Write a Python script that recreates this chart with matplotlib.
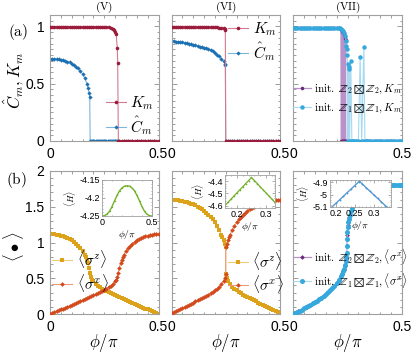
import matplotlib
matplotlib.use('Agg')
import matplotlib.pyplot as plt
from matplotlib.ticker import MultipleLocator, FixedLocator

plt.rcParams['font.family'] = ['Liberation Sans', 'DejaVu Sans']
plt.rcParams['mathtext.fontset'] = 'cm'
plt.rcParams['axes.unicode_minus'] = False

# ---------------- data: panel (a) ----------------
phiV_K = [0.00,0.01,0.02,0.03,0.04,0.05,0.06,0.07,0.08,0.09,0.10,0.11,0.12,0.13,0.14,0.15,0.16,0.17,0.18,0.19,
          0.20,0.21,0.22,0.23,0.24,0.25,0.26,0.27,0.28,0.29,0.295,0.30,0.305,0.31,0.312,0.315,0.32,0.33,0.34,0.35,
          0.36,0.37,0.38,0.39,0.40,0.41,0.42,0.43,0.44,0.45,0.46,0.47,0.48,0.49,0.50]
KV = [0.997,0.997,0.997,0.997,0.997,0.997,0.997,0.997,0.997,0.997,0.997,0.997,0.997,0.997,0.997,0.997,0.997,0.997,0.997,0.997,
      0.997,0.997,0.997,0.996,0.996,0.995,0.994,0.992,0.985,0.975,0.965,0.95,0.93,0.81,0.68,0.0,0.0,0.0,0.0,0.0,
      0.0,0.0,0.0,0.0,0.0,0.0,0.0,0.0,0.0,0.0,0.0,0.0,0.0,0.0,0.0]
phiV_C = [0.00,0.01,0.02,0.03,0.04,0.05,0.06,0.07,0.08,0.09,0.10,0.11,0.12,0.13,0.14,0.15,0.16,0.17,0.175,0.18,
          0.183,0.185,0.19,0.195,0.20,0.205,0.21,0.215,0.22,0.225,0.23,0.235,0.24,0.245,0.25,0.255,0.26,0.265,0.27,0.275,
          0.28,0.285,0.29,0.295,0.30,0.305,0.31,0.32,0.34,0.36,0.38,0.40,0.42,0.44,0.46,0.48,0.50]
CV = [0.720,0.720,0.719,0.717,0.714,0.710,0.705,0.700,0.694,0.686,0.676,0.664,0.650,0.634,0.612,0.585,0.550,0.500,0.465,0.420,
      0.380,0.0,0.0,0.0,0.0,0.0,0.0,0.0,0.0,0.0,0.0,0.0,0.0,0.0,0.0,0.0,0.0,0.0,0.0,0.0,
      0.0,0.0,0.0,0.0,0.0,0.0,0.0,0.0,0.0,0.0,0.0,0.0,0.0,0.0,0.0,0.0,0.0]

phiVI = [0.00,0.01,0.02,0.03,0.04,0.05,0.06,0.07,0.08,0.09,0.10,0.11,0.12,0.13,0.14,0.15,0.16,0.17,0.18,0.19,
         0.20,0.21,0.22,0.23,0.24,0.245,0.248,0.25,0.26,0.27,0.28,0.29,0.30,0.31,0.32,0.33,0.34,0.35,0.36,0.37,
         0.38,0.39,0.40,0.41,0.42,0.43,0.44,0.45,0.46,0.47,0.48,0.49,0.50]
KVI = [0.995,0.995,0.995,0.995,0.995,0.995,0.995,0.995,0.995,0.995,0.995,0.995,0.995,0.995,0.995,0.994,0.994,0.994,0.993,0.993,
       0.992,0.991,0.990,0.988,0.985,0.978,0.970,0.0,0.0,0.0,0.0,0.0,0.0,0.0,0.0,0.0,0.0,0.0,0.0,0.0,
       0.0,0.0,0.0,0.0,0.0,0.0,0.0,0.0,0.0,0.0,0.0,0.0,0.0]
CVI = [0.870,0.869,0.868,0.866,0.864,0.861,0.858,0.854,0.850,0.845,0.840,0.835,0.830,0.825,0.820,0.815,0.810,0.803,0.795,0.783,
       0.770,0.755,0.740,0.720,0.695,0.675,0.660,0.0,0.0,0.0,0.0,0.0,0.0,0.0,0.0,0.0,0.0,0.0,0.0,0.0,
       0.0,0.0,0.0,0.0,0.0,0.0,0.0,0.0,0.0,0.0,0.0,0.0,0.0]

phiVII_Z2 = [0.00,0.01,0.02,0.03,0.04,0.05,0.06,0.07,0.08,0.09,0.10,0.11,0.12,0.13,0.14,0.15,0.16,0.17,0.18,0.19,
             0.20,0.21,0.22,0.222,0.223,0.224,0.225,0.226,0.227,0.228,0.229,0.230,0.231,0.232,0.233,0.234,0.235,0.236,0.237,0.238,
             0.239,0.240,0.241,0.242,0.245,0.25,0.26,0.27,0.28,0.29,0.30,0.31,0.32,0.33,0.34,0.35,0.36,0.37,0.38,0.39,
             0.40,0.41,0.42,0.43,0.44,0.45,0.46,0.47,0.48,0.49,0.50]
KVII_Z2 = [0.99,0.99,0.99,0.99,0.99,0.99,0.99,0.99,0.99,0.99,0.99,0.99,0.99,0.99,0.99,0.99,0.99,0.99,0.99,0.99,
           0.99,0.985,0.975,0.0,0.97,0.0,0.96,0.0,0.96,0.0,0.95,0.0,0.95,0.0,0.94,0.0,0.93,0.0,0.92,0.0,
           0.90,0.0,0.88,0.0,0.0,0.0,0.0,0.0,0.0,0.0,0.0,0.0,0.0,0.0,0.0,0.0,0.0,0.0,0.0,0.0,
           0.0,0.0,0.0,0.0,0.0,0.0,0.0,0.0,0.0,0.0,0.0]
phiVII_Z1 = [0.00,0.01,0.02,0.03,0.04,0.05,0.06,0.07,0.08,0.09,0.10,0.11,0.12,0.13,0.14,0.15,0.16,0.17,0.18,0.19,
             0.20,0.21,0.215,0.22,0.225,0.23,0.235,0.24,0.242,0.244,0.246,0.248,0.25,0.252,0.255,0.258,0.26,0.265,0.27,0.275,
             0.28,0.29,0.30,0.308,0.315,0.325,0.33,0.335,0.34,0.35,0.36,0.37,0.38,0.39,0.40,0.41,0.42,0.43,0.44,0.45,
             0.46,0.47,0.48,0.49,0.50]
KVII_Z1 = [0.99,0.99,0.99,0.99,0.99,0.99,0.99,0.99,0.99,0.99,0.99,0.99,0.99,0.99,0.99,0.99,0.99,0.99,0.99,0.99,
           0.99,0.988,0.985,0.98,0.972,0.96,0.945,0.92,0.877,0.83,0.80,0.755,0.67,0.0,0.65,0.63,0.0,0.70,0.0,0.0,
           0.0,0.0,0.0,0.73,0.0,0.82,0.0,0.0,0.0,0.0,0.0,0.0,0.0,0.0,0.0,0.0,0.0,0.0,0.0,0.0,
           0.0,0.0,0.0,0.0,0.0]

# ---------------- data: panel (b) ----------------
phiV_z = [0.00,0.01,0.02,0.03,0.04,0.05,0.06,0.07,0.08,0.09,0.10,0.11,0.12,0.13,0.14,0.15,0.16,0.165,0.17,0.175,
          0.18,0.185,0.19,0.195,0.20,0.21,0.22,0.23,0.24,0.25,0.26,0.27,0.28,0.29,0.30,0.31,0.32,0.33,0.34,0.35,
          0.36,0.37,0.38,0.39,0.40,0.41,0.42,0.43,0.44,0.45,0.46,0.47,0.48,0.49,0.50]
szV = [1.120,1.117,1.112,1.106,1.100,1.093,1.085,1.073,1.060,1.045,1.030,1.010,0.985,0.955,0.920,0.880,0.830,0.795,0.760,0.710,
       0.650,0.580,0.520,0.480,0.455,0.420,0.395,0.374,0.355,0.338,0.322,0.306,0.291,0.276,0.262,0.248,0.234,0.220,0.207,0.193,
       0.180,0.167,0.154,0.141,0.128,0.115,0.102,0.089,0.076,0.063,0.050,0.038,0.025,0.013,0.000]
phiV_x = [0.00,0.01,0.02,0.03,0.04,0.05,0.06,0.07,0.08,0.09,0.10,0.11,0.12,0.13,0.14,0.15,0.16,0.17,0.18,0.19,
          0.20,0.21,0.22,0.23,0.24,0.25,0.26,0.27,0.28,0.29,0.30,0.305,0.31,0.315,0.32,0.325,0.33,0.335,0.34,0.35,
          0.36,0.37,0.38,0.39,0.40,0.41,0.42,0.43,0.44,0.45,0.46,0.47,0.48,0.49,0.50]
sxV = [0.000,0.013,0.025,0.038,0.050,0.063,0.076,0.089,0.102,0.115,0.128,0.141,0.154,0.167,0.180,0.193,0.207,0.220,0.234,0.248,
       0.262,0.276,0.291,0.306,0.322,0.338,0.355,0.374,0.395,0.420,0.455,0.480,0.520,0.580,0.650,0.710,0.760,0.795,0.830,0.880,
       0.920,0.955,0.985,1.010,1.030,1.045,1.060,1.073,1.085,1.093,1.100,1.106,1.112,1.117,1.120]

phiVI_z = [0.00,0.01,0.02,0.03,0.04,0.05,0.06,0.07,0.08,0.09,0.10,0.11,0.12,0.13,0.14,0.15,0.16,0.17,0.18,0.19,
           0.20,0.21,0.22,0.23,0.235,0.24,0.245,0.2495,0.2505,0.255,0.26,0.27,0.28,0.29,0.30,0.31,0.32,0.33,0.34,0.35,
           0.36,0.37,0.38,0.39,0.40,0.41,0.42,0.43,0.44,0.45,0.46,0.47,0.48,0.49,0.50]
szVI = [1.600,1.598,1.595,1.591,1.586,1.580,1.573,1.565,1.556,1.545,1.533,1.519,1.503,1.485,1.465,1.443,1.418,1.390,1.358,1.322,
        1.280,1.232,1.176,1.110,1.072,1.030,0.985,0.940,0.560,0.500,0.465,0.415,0.380,0.352,0.330,0.310,0.290,0.272,0.255,0.240,
        0.224,0.208,0.192,0.176,0.160,0.144,0.128,0.112,0.096,0.080,0.065,0.050,0.035,0.022,0.010]
phiVI_x = [0.00,0.01,0.02,0.03,0.04,0.05,0.06,0.07,0.08,0.09,0.10,0.11,0.12,0.13,0.14,0.15,0.16,0.17,0.18,0.19,
           0.20,0.21,0.22,0.23,0.24,0.245,0.2495,0.2505,0.255,0.26,0.265,0.27,0.28,0.29,0.30,0.31,0.32,0.33,0.34,0.35,
           0.36,0.37,0.38,0.39,0.40,0.41,0.42,0.43,0.44,0.45,0.46,0.47,0.48,0.49,0.50]
sxVI = [0.010,0.022,0.035,0.050,0.065,0.080,0.096,0.112,0.128,0.144,0.160,0.176,0.192,0.208,0.224,0.240,0.255,0.272,0.290,0.310,
        0.330,0.352,0.380,0.415,0.465,0.500,0.560,0.940,0.985,1.030,1.072,1.110,1.176,1.232,1.280,1.322,1.358,1.390,1.418,1.443,
        1.465,1.485,1.503,1.519,1.533,1.545,1.556,1.565,1.573,1.580,1.586,1.591,1.595,1.598,1.600]

phiVII_b1 = [0.00,0.01,0.02,0.03,0.04,0.05,0.06,0.07,0.08,0.09,0.10,0.11,0.12,0.13,0.14,0.15,0.16,0.17,0.18,0.19,
             0.20,0.21,0.22,0.225,0.23,0.235,0.24,0.243,0.245,0.246,0.247,0.248,0.249,0.25,0.252,0.255,0.26,0.265,0.27,0.28,
             0.29,0.30,0.31,0.32,0.33,0.34,0.35,0.36,0.37,0.38,0.39,0.40,0.41,0.42,0.43,0.44,0.45,0.46,0.47,0.48,
             0.49,0.50]
sxVII_Z1 = [0.000,0.015,0.030,0.046,0.062,0.078,0.095,0.112,0.130,0.148,0.167,0.186,0.206,0.228,0.252,0.278,0.305,0.333,0.363,0.398,
            0.437,0.480,0.530,0.560,0.595,0.635,0.690,0.740,0.800,0.850,0.950,1.050,1.150,1.220,1.280,1.330,1.390,1.440,1.480,1.540,
            1.590,1.625,1.655,1.680,1.700,1.718,1.733,1.746,1.757,1.766,1.774,1.781,1.786,1.790,1.794,1.797,1.800,1.802,1.804,1.805,
            1.806,1.807]
phiVII_b2 = [0.005,0.025,0.045,0.065,0.085,0.115,0.135,0.155,0.175,0.195,0.215,0.232,0.238,0.244,0.247,0.2485,0.251,0.257,0.275,0.297,
             0.32,0.345,0.37,0.395,0.42,0.445,0.47,0.495]
sxVII_Z2 = [0.008,0.038,0.070,0.103,0.139,0.196,0.239,0.291,0.348,0.416,0.504,0.615,0.665,0.770,0.950,1.100,1.250,1.360,1.510,1.620,
            1.680,1.726,1.757,1.778,1.790,1.798,1.804,1.807]

# insets
phi_inV = [0.0,0.025,0.05,0.075,0.1,0.125,0.15,0.175,0.2,0.225,0.25,0.275,0.3,0.325,0.35,0.375,0.4,0.425,0.45,0.475,0.5]
H_inV = [-4.250,-4.249,-4.245,-4.237,-4.224,-4.208,-4.193,-4.180,-4.172,-4.167,-4.166,-4.167,-4.172,-4.180,-4.193,-4.208,-4.224,-4.237,-4.245,-4.249,-4.250]
phi_inVI = [0.16,0.17,0.18,0.19,0.20,0.21,0.22,0.23,0.24,0.25,0.26,0.27,0.28,0.29,0.30,0.31,0.32,0.33]
H_inVI = [-4.600,-4.574,-4.549,-4.523,-4.498,-4.472,-4.447,-4.421,-4.396,-4.370,-4.396,-4.421,-4.447,-4.472,-4.498,-4.523,-4.549,-4.574]
phi_inVII = [0.19,0.20,0.21,0.22,0.23,0.24,0.25,0.26,0.262,0.27,0.28,0.29,0.30,0.31,0.32,0.33,0.334]
H_inVII = [-5.100,-5.071,-5.042,-5.013,-4.983,-4.954,-4.925,-4.896,-4.890,-4.913,-4.943,-4.972,-5.001,-5.030,-5.059,-5.088,-5.100]

# colours
cK, cKl = '#9b1b3b', '#d27a90'
cC, cCl = '#1a70b2', '#7fb6dd'
cZ, cZl = '#dca21a', '#efcc74'
cX, cXl = '#d4491b', '#ec9a78'
cG = '#72b02a'
cP, cPl = '#6a2a7e', '#b892c9'
cB, cBl = '#35a8de', '#a6daf2'

W, H = 415, 356
fig = plt.figure(figsize=(W/100, H/100), dpi=100)

def add_px(x0, y0, x1, y1):
    return fig.add_axes([x0/W, 1-y1/H, (x1-x0)/W, (y1-y0)/H])

cols = [(50, 158.5), (171.5, 280), (293, 402)]

def style(ax, ymaj, ymin, ylabels):
    ax.set_xlim(0, 0.5)
    ax.xaxis.set_major_locator(FixedLocator([0, 0.5]))
    ax.xaxis.set_major_formatter(plt.FixedFormatter(['0', '0.5']))
    ax.xaxis.set_minor_locator(MultipleLocator(0.05))
    ax.yaxis.set_major_locator(FixedLocator(ymaj))
    ax.yaxis.set_minor_locator(MultipleLocator(ymin))
    ax.tick_params(which='both', direction='in', top=True, right=True, color='#8c8c8c', width=0.6,
                   labelsize=10, pad=4)
    ax.tick_params(which='major', length=3.5)
    ax.tick_params(which='minor', length=1.8)
    if not ylabels:
        ax.tick_params(labelleft=False)
    for s in ax.spines.values():
        s.set_color('#a0a0a0'); s.set_linewidth(0.8)

def series(ax, x, y, mc, lc, marker, ms, label=None, z=2, lw=0.8):
    return ax.plot(x, y, color=lc, lw=lw, marker=marker, ms=ms, mfc=mc, mec=mc, mew=0,
                   label=label, zorder=z)[0]

top = [add_px(c[0], 15, c[1], 141) for c in cols]
bot = [add_px(c[0], 171, c[1], 314) for c in cols]

for i, ax in enumerate(top):
    ax.set_ylim(0, 1.1)
    style(ax, [0, 0.5, 1], 0.05, i == 0)
    ax.yaxis.set_major_formatter(plt.FixedFormatter(['0', '0.5', '1']))
for i, ax in enumerate(bot):
    ax.set_ylim(0, 2)
    style(ax, [0, 0.5, 1, 1.5, 2], 0.1, i == 0)
    ax.yaxis.set_major_formatter(plt.FixedFormatter(['0', '0.5', '1', '1.5', '2']))

for ax, t in zip(top, ['(V)', '(VI)', '(VII)']):
    ax.set_title(r'$\mathrm{%s}$' % t, fontsize=8, pad=1.5)

# (a) V
ax = top[0]
hC = series(ax, phiV_C, CV, cC, cCl, 'D', 2.2)
hK = series(ax, phiV_K, KV, cK, cKl, 'o', 2.6, z=3)
ax.legend([hK, hC], [r'$K_m$', r'$\hat{C}_m$'], loc='lower right', bbox_to_anchor=(0.96, 0.03),
          frameon=False, fontsize=11, handlelength=1.3, handletextpad=0.3, labelspacing=0.15,
          borderpad=0, borderaxespad=0)
# (a) VI
ax = top[1]
hC = series(ax, phiVI, CVI, cC, cCl, 'D', 2.2)
hK = series(ax, phiVI, KVI, cK, cKl, 'o', 2.6, z=3)
ax.legend([hK, hC], [r'$K_m$', r'$\hat{C}_m$'], loc='upper right', bbox_to_anchor=(0.97, 0.96),
          frameon=False, fontsize=11, handlelength=1.3, handletextpad=0.3, labelspacing=0.15,
          borderpad=0, borderaxespad=0)
# (a) VII
ax = top[2]
h2 = series(ax, phiVII_Z2, KVII_Z2, cP, cPl, 'o', 2.6, lw=0.9)
h1 = series(ax, phiVII_Z1, KVII_Z1, cB, cBl, 'o', 3.2, z=3)
ax.legend([h2, h1], [r'$\mathrm{init.}\ \mathbb{Z}_2\boxtimes\mathbb{Z}_2, K_m$',
                     r'$\mathrm{init.}\ \mathbb{Z}_1\boxtimes\mathbb{Z}_1, K_m$'],
          loc='center left', bbox_to_anchor=(0.0, 0.335), frameon=False, fontsize=8,
          handlelength=1.6, handletextpad=0.3, labelspacing=0.45, borderpad=0, borderaxespad=0)

# (b) V
ax = bot[0]
hz = series(ax, phiV_z, szV, cZ, cZl, 's', 2.4)
hx = series(ax, phiV_x, sxV, cX, cXl, 'D', 2.4, z=3)
ax.legend([hz, hx], [r'$\langle\sigma^z\rangle$', r'$\langle\sigma^x\rangle$'], loc='center left',
          bbox_to_anchor=(0.02, 0.30), frameon=False, fontsize=11, handlelength=1.3, handletextpad=0.3,
          labelspacing=0.1, borderpad=0, borderaxespad=0)
# (b) VI
ax = bot[1]
hz = series(ax, phiVI_z, szVI, cZ, cZl, 's', 2.4)
hx = series(ax, phiVI_x, sxVI, cX, cXl, 'D', 2.4, z=3)
ax.legend([hz, hx], [r'$\langle\sigma^z\rangle$', r'$\langle\sigma^x\rangle$'], loc='center left',
          bbox_to_anchor=(0.52, 0.29), frameon=False, fontsize=11, handlelength=1.3, handletextpad=0.3,
          labelspacing=0.1, borderpad=0, borderaxespad=0)
# (b) VII
ax = bot[2]
h2 = series(ax, phiVII_b2, sxVII_Z2, cP, cPl, 'D', 2.4, lw=0.9)
h1 = series(ax, phiVII_b1, sxVII_Z1, cB, cBl, 'o', 3.6, z=3)
ax.legend([h2, h1], [r'$\mathrm{init.}\ \mathbb{Z}_2\boxtimes\mathbb{Z}_2, \langle\sigma^x\rangle$',
                     r'$\mathrm{init.}\ \mathbb{Z}_1\boxtimes\mathbb{Z}_1, \langle\sigma^x\rangle$'],
          loc='center left', bbox_to_anchor=(0.0, 0.32), frameon=False, fontsize=8,
          handlelength=1.6, handletextpad=0.3, labelspacing=0.45, borderpad=0, borderaxespad=0)

# insets
def inset_style(ax, xt, xtl, yt, ytl):
    ax.set_xticks(xt); ax.set_xticklabels(xtl)
    ax.set_yticks(yt); ax.set_yticklabels(ytl)
    ax.minorticks_on()
    ax.tick_params(which='both', direction='in', top=True, right=True, color='#8c8c8c', width=0.5,
                   labelsize=6.5, pad=1.5)
    ax.tick_params(which='major', length=2)
    ax.tick_params(which='minor', length=1)
    for s in ax.spines.values():
        s.set_color('#a0a0a0'); s.set_linewidth(0.6)
    ax.set_xlabel(r'$\phi/\pi$', fontsize=7, labelpad=0.5)
    ax.set_ylabel(r'$\langle H\rangle$', fontsize=6.5, labelpad=1)

ia = add_px(102, 180, 152, 216)
ia.plot(phi_inV, H_inV, color=cG, lw=1.0, marker='o', ms=1.0, mew=0)
ia.set_xlim(0, 0.5); ia.set_ylim(-4.25, -4.15)
inset_style(ia, [0, 0.5], ['0', '0.5'], [-4.25, -4.2, -4.15], ['-4.25', '-4.2', '-4.15'])

ib = add_px(225, 175, 275, 208)
ib.plot(phi_inVI, H_inVI, color=cG, lw=0.9, marker='o', ms=1.2, mew=0)
ib.set_xlim(0.16, 0.33); ib.set_ylim(-4.62, -4.35)
inset_style(ib, [0.2, 0.3], ['0.2', '0.3'], [-4.6, -4.5, -4.4], ['-4.6', '-4.5', '-4.4'])

ic = add_px(330, 180, 391, 207)
ic.plot(phi_inVII, H_inVII, color=cPl, lw=1.0, marker='o', ms=1.0, mfc=cP, mew=0)
ic.plot(phi_inVII, H_inVII, color=cB, lw=0.6, marker='o', ms=1.2, mew=0)
ic.set_xlim(0.185, 0.345); ic.set_ylim(-5.1, -4.88)
inset_style(ic, [0.2, 0.25, 0.3], ['0.2', '0.25', '0.3'], [-5.1, -5.0, -4.9], ['-5.1', '-5', '-4.9'])

# labels
fig.text(8/W, 1-32/H, r'$\mathrm{(a)}$', fontsize=11, va='center', ha='left')
fig.text(6/W, 1-180/H, r'$\mathrm{(b)}$', fontsize=11, va='center', ha='left')
fig.text(14/W, 1-80/H, r'$\hat{C}_m, K_m$', fontsize=12, rotation=90, va='center', ha='center')
fig.text(14/W, 1-247/H, r'$\langle\bullet\rangle$', fontsize=12, rotation=90, va='center', ha='center')
for c in cols:
    fig.text((c[0]+c[1])/2/W, 1-343/H, r'$\phi/\pi$', fontsize=12, va='center', ha='center')

fig.savefig('out.png', dpi=100)
